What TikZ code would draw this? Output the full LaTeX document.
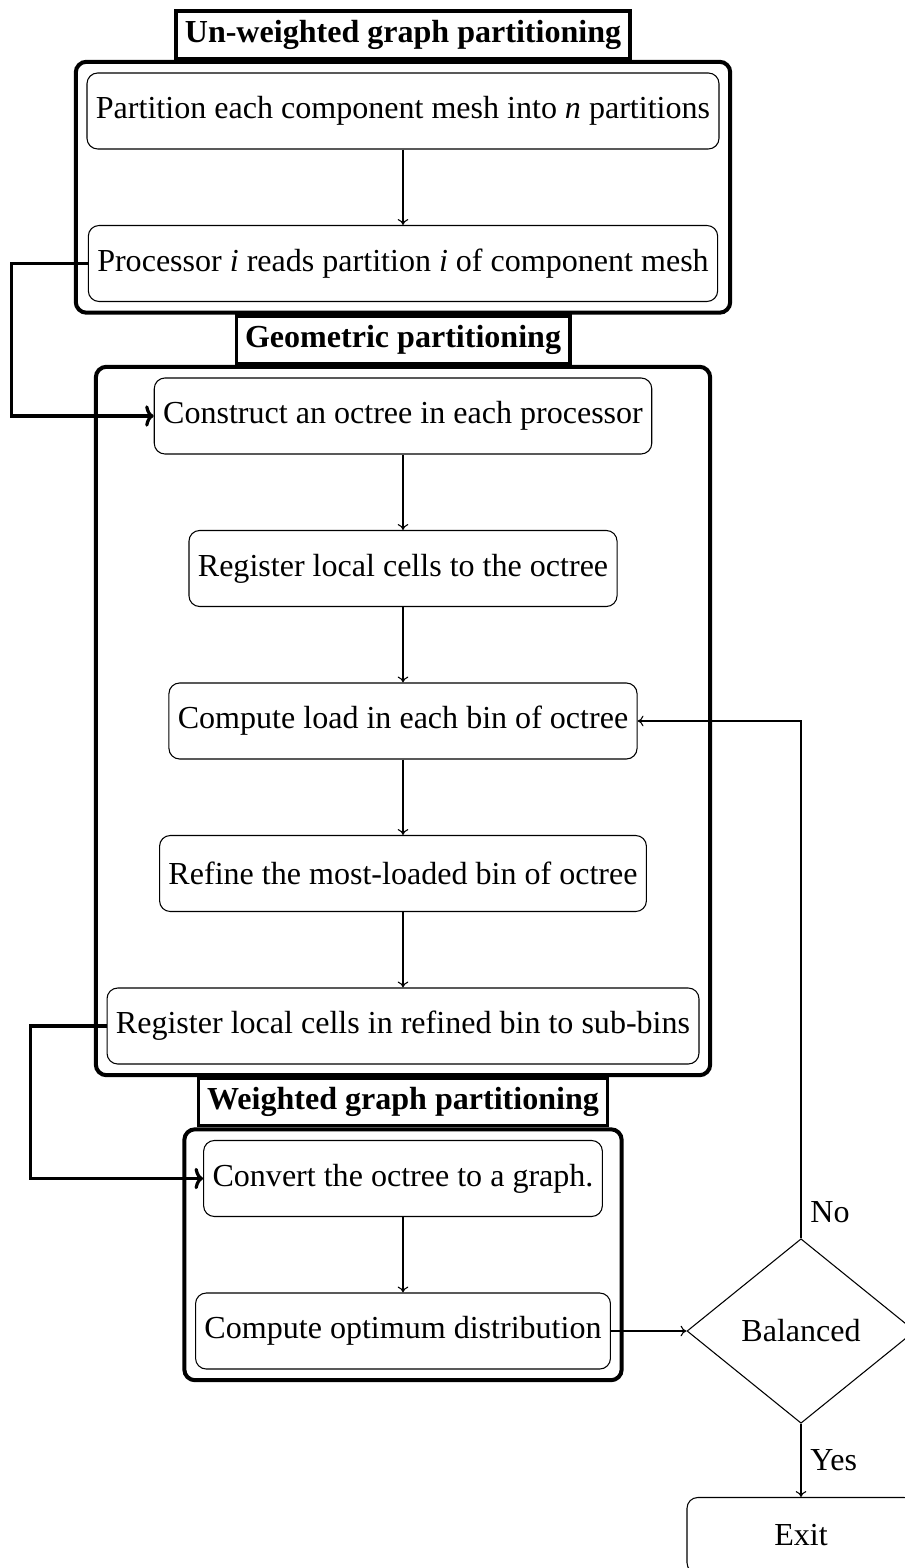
\documentclass[tikz,border=0pt]{standalone}
\usepackage{fontspec}
\setmainfont{Liberation Serif}
\usetikzlibrary{shapes.geometric,fit,arrows.meta}
\begin{document}
\begin{tikzpicture}[x=0.3744pt,y=-0.3744pt,
  font=\fontsize{12}{14}\selectfont,
  stepbox/.style={draw,rectangle,rounded corners,line width=0.4pt,minimum height=1cm},
  groupbox/.style={draw,rectangle,rounded corners,line width=1.5pt,inner sep=4pt},
  titlebox/.style={draw,rectangle,line width=1.2pt,font=\fontsize{12}{14}\selectfont\bfseries,anchor=south},
  thinarrow/.style={-{To[length=2.2pt,width=4pt]},line width=0.4pt},
  loopline/.style={-{To[length=3.2pt,width=8pt]},line width=1.2pt},
  decision/.style={draw,diamond,aspect=1,line width=0.4pt,minimum width=3cm,inner sep=4pt}]
\useasboundingbox (0,0) rectangle (904,1568);
\node[stepbox] (a) at (403,111) {Partition each component mesh into \textit{n} partitions};
\node[stepbox] (b) at (403,263.5) {Processor \textit{i} reads partition \textit{i} of component mesh};
\node[stepbox] (c) at (403,416) {Construct an octree in each processor};
\node[stepbox] (d) at (403,568.5) {Register local cells to the octree};
\node[stepbox] (e) at (403,721) {Compute load in each bin of octree};
\node[stepbox] (f) at (403,873.5) {Refine the most-loaded bin of octree};
\node[stepbox] (g) at (403,1026) {Register local cells in refined bin to sub-bins};
\node[stepbox] (h) at (403,1178.5) {Convert the octree to a graph.};
\node[stepbox] (i) at (403,1331) {Compute optimum distribution};
\node[decision] (bal) at (801,1331) {Balanced};
\node[stepbox,minimum width=3cm] (exit) at (801,1535.5) {Exit};
\node[groupbox,fit=(a)(b)] (g1) {};
\node[groupbox,fit=(c)(d)(e)(f)(g)] (g2) {};
\node[groupbox,fit=(h)(i)] (g3) {};
\node[titlebox] (t1) at (g1.north) {Un-weighted graph partitioning};
\node[titlebox] (t2) at (g2.north) {Geometric partitioning};
\node[titlebox] (t3) at (g3.north) {Weighted graph partitioning};
\draw[thinarrow] (a) -- (b);
\draw[thinarrow] (c) -- (d);
\draw[thinarrow] (d) -- (e);
\draw[thinarrow] (e) -- (f);
\draw[thinarrow] (f) -- (g);
\draw[thinarrow] (h) -- (i);
\draw[thinarrow] (i) -- (bal);
\draw[loopline] (b.west) -- ++(-1cm,0) |- (c.west);
\draw[loopline] (g.west) -- ++(-1cm,0) |- (h.west);
\draw[thinarrow] (bal.north) |- node[right,pos=0.025] {No} (e.east);
\draw[thinarrow] (bal.south) -- node[right] {Yes} (exit.north);
\end{tikzpicture}
\end{document}
